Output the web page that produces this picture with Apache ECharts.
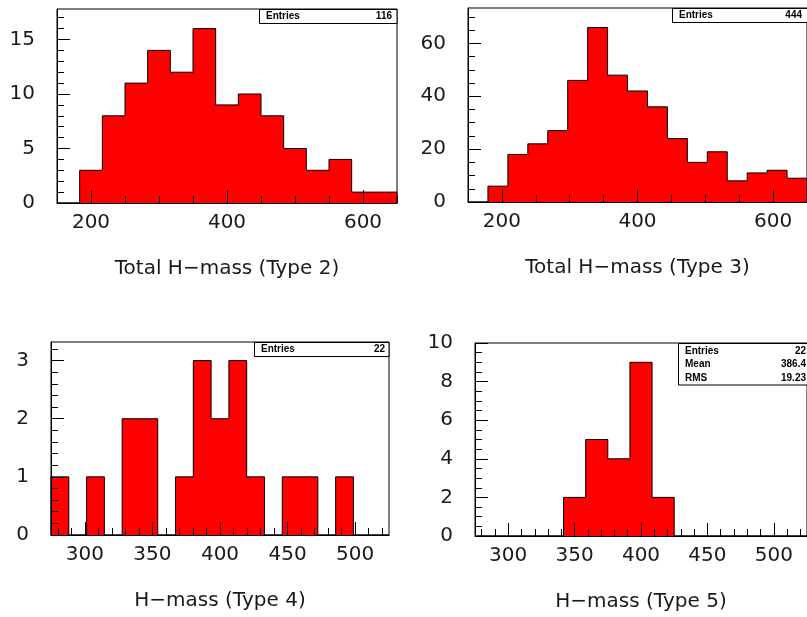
<!DOCTYPE html>
<html>
<head>
<meta charset="utf-8">
<script src="https://cdn.jsdelivr.net/npm/echarts@6/dist/echarts.min.js"></script>
<style>
html,body{margin:0;padding:0;background:#fff;}
#chart{width:807px;height:617px;}
</style>
</head>
<body>
<div id="chart"></div>
<script>
// ---- Data (histogram contents) ----
const h1Range = [150, 650];
const h1Values = [0, 3, 8, 11, 14, 12, 16, 9, 10, 8, 5, 3, 4, 1, 1];
const h2Range = [150, 650];
const h2Values = [0, 6, 18, 22, 27, 46, 66, 48, 42, 36, 24, 15, 19, 8, 11, 12, 9];
const h3Range = [275, 525];
const h3Values = [1, 0, 1, 0, 2, 2, 0, 1, 3, 2, 3, 1, 0, 1, 1, 0, 1, 0, 0];
const h4Range = [275, 525];
const h4Values = [0, 0, 0, 0, 2, 5, 4, 9, 2, 0, 0, 0, 0, 0, 0];

const titles = ['Total H\u2212mass (Type 2)', 'Total H\u2212mass (Type 3)', 'H\u2212mass (Type 4)', 'H\u2212mass (Type 5)'];

// tick labels
const xLabels1 = [200, 400, 600];
const xLabels2 = [200, 400, 600];
const xLabels3 = [300, 350, 400, 450, 500];
const xLabels4 = [300, 350, 400, 450, 500];
const yLabels1 = [0, 5, 10, 15];
const yLabels2 = [0, 20, 40, 60];
const yLabels3 = [0, 1, 2, 3];
const yLabels4 = [0, 2, 4, 6, 8, 10];
const yMax = [17.8, 73.4, 3.32, 10];

// stats boxes
const stats1 = [['Entries', '116']];
const stats2 = [['Entries', '444']];
const stats3 = [['Entries', '22']];
const stats4 = [['Entries', '22'], ['Mean', '386.4'], ['RMS', '19.23']];

// ---- helpers ----
function range(lo, hi, step) {
  const out = [];
  const n = Math.round((hi - lo) / step);
  for (let i = 0; i <= n; i++) out.push(+(lo + i * step).toFixed(6));
  return out;
}
function histPoints(rng, vals) {
  const n = vals.length, w = (rng[1] - rng[0]) / n;
  const pts = [[rng[0], 0]];
  vals.forEach((v, i) => pts.push([rng[0] + i * w, v]));
  pts.push([rng[1], vals[n - 1]]);
  pts.push([rng[1], 0]);
  return pts;
}

const FONT = '"DejaVu Sans", sans-serif';
const TXT = '#1a1a1a';
const grids = [
  {left: 57, top: 9, width: 340, height: 194},
  {left: 468, top: 8, width: 340, height: 194},
  {left: 51, top: 342, width: 338, height: 193},
  {left: 475, top: 343, width: 340, height: 193}
];
const panels = [
  {rng: h1Range, vals: h1Values, xl: xLabels1, xMinor: 50, yl: yLabels1, yMinor: 1},
  {rng: h2Range, vals: h2Values, xl: xLabels2, xMinor: 50, yl: yLabels2, yMinor: 5},
  {rng: h3Range, vals: h3Values, xl: xLabels3, xMinor: 10, yl: yLabels3, yMinor: 0.2},
  {rng: h4Range, vals: h4Values, xl: xLabels4, xMinor: 10, yl: yLabels4, yMinor: 0.5}
];

const xAxis = [], yAxis = [], series = [];
panels.forEach((p, i) => {
  const lineStyle = {color: '#000', width: 1};
  const xMinorVals = range(Math.ceil(p.rng[0] / p.xMinor) * p.xMinor, p.rng[1], p.xMinor);
  const yMinorVals = range(0, yMax[i], p.yMinor).filter(v => v <= yMax[i]);
  xAxis.push({
    type: 'value', gridIndex: i, min: p.rng[0], max: p.rng[1], position: 'bottom', zlevel: 1, z: 10,
    axisLine: {show: true, lineStyle}, splitLine: {show: false},
    axisTick: {show: true, inside: true, length: 7, customValues: xMinorVals, lineStyle},
    axisLabel: {show: false}
  });
  xAxis.push({
    type: 'value', gridIndex: i, min: p.rng[0], max: p.rng[1], position: 'bottom', zlevel: 1, z: 10,
    axisLine: {show: false}, splitLine: {show: false},
    axisTick: {show: true, inside: true, length: 13, customValues: p.xl, lineStyle},
    axisLabel: {show: true, customValues: p.xl, margin: 10, color: TXT, fontFamily: FONT, fontSize: 20},
    name: titles[i], nameLocation: 'middle', nameGap: 56,
    nameTextStyle: {color: TXT, fontFamily: FONT, fontSize: 20}
  });
  yAxis.push({
    type: 'value', gridIndex: i, min: 0, max: yMax[i], position: 'left', zlevel: 1, z: 10,
    axisLine: {show: true, lineStyle}, splitLine: {show: false},
    axisTick: {show: true, inside: true, length: 7, customValues: yMinorVals, lineStyle},
    axisLabel: {show: false}
  });
  yAxis.push({
    type: 'value', gridIndex: i, min: 0, max: yMax[i], position: 'left', zlevel: 1, z: 10,
    axisLine: {show: false}, splitLine: {show: false},
    axisTick: {show: true, inside: true, length: 13, customValues: p.yl, lineStyle},
    axisLabel: {show: true, customValues: p.yl, margin: 22, color: TXT, fontFamily: FONT, fontSize: 20}
  });
  series.push({
    type: 'line', xAxisIndex: 2 * i, yAxisIndex: 2 * i, step: 'end',
    data: histPoints(p.rng, p.vals), symbol: 'none', z: 2,
    lineStyle: {color: '#000', width: 1},
    areaStyle: {color: '#ff0000', opacity: 1},
    animation: false
  });
});

// stats boxes (annotations)
function statsBox(x, y, w, rows, textLeft, textRight) {
  const lh = 13.5;
  const h = rows.length === 1 ? 14 : rows.length * lh + 1;
  const els = [{
    type: 'rect', shape: {x: x, y: y, width: w, height: h}, zlevel: 2, z: 100,
    style: {fill: '#fff', stroke: '#000', lineWidth: 1}
  }];
  rows.forEach((r, k) => {
    const cy = y + (rows.length === 1 ? h / 2 : lh * k + lh / 2 + 0.5);
    els.push({type: 'text', zlevel: 2, z: 101, x: textLeft, y: cy,
      style: {text: r[0], fill: '#000', font: 'bold 10px "Liberation Sans", sans-serif', verticalAlign: 'middle', align: 'left'}});
    els.push({type: 'text', zlevel: 2, z: 101, x: textRight, y: cy,
      style: {text: r[1], fill: '#000', font: 'bold 10px "Liberation Sans", sans-serif', verticalAlign: 'middle', align: 'right'}});
  });
  return els;
}
const graphic = [].concat(
  statsBox(259.5, 9.5, 137.5, stats1, 266, 392),
  statsBox(672.5, 8.5, 140, stats2, 679, 802),
  statsBox(254.5, 342.5, 134.5, stats3, 261, 385),
  statsBox(678.5, 343.5, 140, stats4, 685, 806)
);

const chart = echarts.init(document.getElementById('chart'), null, {renderer: 'canvas'});
chart.setOption({
  animation: false,
  backgroundColor: '#fff',
  grid: grids.map(g => Object.assign({show: true, borderColor: '#000', borderWidth: 1, backgroundColor: 'transparent', containLabel: false}, g)),
  xAxis, yAxis, series, graphic
});
</script>
</body>
</html>
